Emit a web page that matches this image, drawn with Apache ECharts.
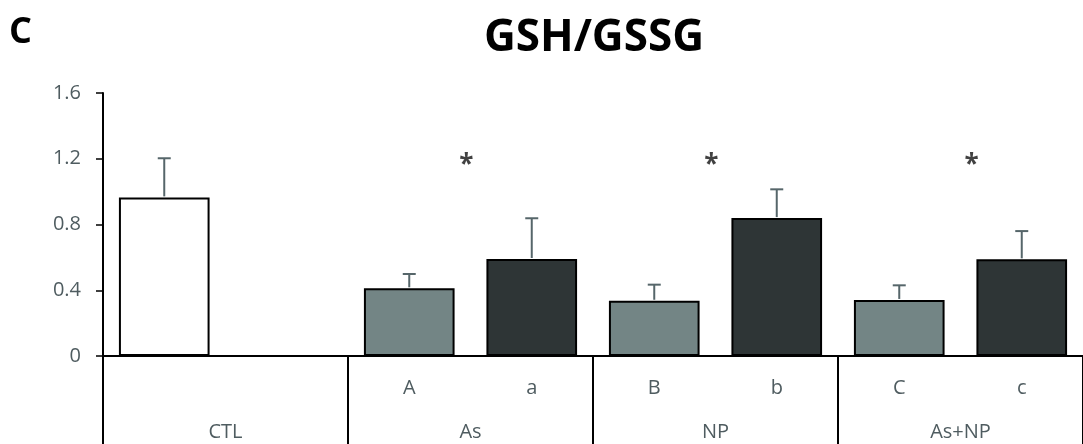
<!DOCTYPE html>
<html>
<head>
<meta charset="utf-8">
<script src="https://cdn.jsdelivr.net/npm/echarts@6/dist/echarts.min.js"></script>
<style>
  html, body { margin: 0; padding: 0; background: #ffffff; }
  #chart { width: 1083px; height: 444px; }
</style>
</head>
<body>
<div id="chart"></div>
<script>
// Sub-category labels (one per bar slot); CTL occupies the first two slots.
const subLabels = ['', '', 'A', 'a', 'B', 'b', 'C', 'c'];
// Group labels shown on the second tier of the category axis.
const groupLabels = ['CTL', 'As', 'NP', 'As+NP'];
// GSH/GSSG ratio (mean) and error (upper whisker) per slot.
const means  = [0.965, null, 0.412, 0.590, 0.336, 0.839, 0.341, 0.588];
const errors = [0.238, null, 0.087, 0.248, 0.098, 0.175, 0.089, 0.172];
// Value-axis ticks.
const yTicks = [0, 0.4, 0.8, 1.2, 1.6];
// Significance asterisks: horizontal position in slot units, and height.
const starX = [2.965, 4.965, 7.09];
const starY = [1.16, 1.16, 1.16];

const FONT = '"Open Sans", "Noto Sans", sans-serif';
const LABEL_COLOR = '#4f5c60';
const COLOR_CTL = '#ffffff';
const COLOR_LIGHT = '#738585';
const COLOR_DARK = '#2e3536';
const ERR_COLOR = '#56666a';

function barColor(i) {
  const lab = subLabels[i];
  if (!lab) return COLOR_CTL;
  return lab === lab.toUpperCase() ? COLOR_LIGHT : COLOR_DARK;
}

const barData = means.map((m, i) => m == null ? '-' : {
  value: m,
  itemStyle: { color: barColor(i) }
});

const errData = [];
means.forEach((m, i) => { if (m != null) errData.push([i, m, errors[i]]); });

const chart = echarts.init(document.getElementById('chart'), null, { renderer: 'canvas' });

chart.setOption({
  animation: false,
  backgroundColor: '#ffffff',
  textStyle: { fontFamily: FONT },
  title: [
    {
      text: 'C',
      left: 4, top: 10,
      textStyle: { fontFamily: FONT, fontSize: 36, fontWeight: 'bold', color: '#000000' }
    },
    {
      text: 'GSH/GSSG',
      left: 589, top: 11,
      textAlign: 'center',
      textStyle: { fontFamily: FONT, fontSize: 44, fontWeight: 'bold', color: '#000000' }
    }
  ],
  grid: { left: 103, right: -7, top: 93, bottom: 88, containLabel: false },
  xAxis: [
    {
      type: 'category',
      data: subLabels,
      position: 'bottom',
      axisLine: { show: true, lineStyle: { color: '#000000', width: 2 } },
      axisTick: { show: false },
      axisLabel: { interval: 0, margin: 22, fontSize: 20, color: LABEL_COLOR, fontFamily: FONT },
      splitLine: { show: false }
    },
    {
      type: 'category',
      data: groupLabels,
      position: 'bottom',
      axisLine: { show: false },
      axisTick: { show: true, interval: 0, length: 88, lineStyle: { color: '#000000', width: 2 } },
      axisLabel: { interval: 0, margin: 66, fontSize: 20, color: LABEL_COLOR, fontFamily: FONT },
      splitLine: { show: false }
    },
    {
      type: 'value',
      min: 0, max: subLabels.length,
      show: false
    }
  ],
  yAxis: {
    type: 'value',
    min: yTicks[0],
    max: yTicks[yTicks.length - 1],
    interval: yTicks[1] - yTicks[0],
    axisLine: { show: true, lineStyle: { color: '#000000', width: 2 } },
    axisTick: { show: true, length: 7, lineStyle: { color: '#000000', width: 1.5 } },
    axisLabel: { margin: 22, fontSize: 20, color: LABEL_COLOR, fontFamily: FONT },
    splitLine: { show: false }
  },
  series: [
    {
      type: 'bar',
      xAxisIndex: 0,
      data: barData,
      barWidth: '74%',
      itemStyle: { borderColor: '#000000', borderWidth: 2 },
      z: 2
    },
    {
      type: 'custom',
      xAxisIndex: 0,
      data: errData,
      encode: { x: 0, y: 1 },
      z: 3,
      renderItem: function (params, api) {
        const idx = api.value(0);
        const m = api.value(1);
        const e = api.value(2);
        const base = api.coord([idx, m]);
        const top = api.coord([idx, m + e]);
        const x = base[0];
        const style = { stroke: ERR_COLOR, lineWidth: 2 };
        return {
          type: 'group',
          children: [
            { type: 'line', shape: { x1: x, y1: base[1] - 1, x2: x, y2: top[1] }, style: style },
            { type: 'line', shape: { x1: x - 6.5, y1: top[1], x2: x + 6.5, y2: top[1] }, style: style }
          ]
        };
      }
    },
    {
      type: 'scatter',
      xAxisIndex: 2,
      data: starX.map((x, i) => [x, starY[i]]),
      symbol: 'circle',
      symbolSize: 2,
      itemStyle: { color: 'rgba(0,0,0,0)' },
      label: {
        show: true,
        position: 'inside',
        formatter: '*',
        fontSize: 26,
        fontWeight: 'bold',
        color: '#111111',
        fontFamily: FONT
      },
      z: 4
    }
  ]
});
</script>
</body>
</html>
